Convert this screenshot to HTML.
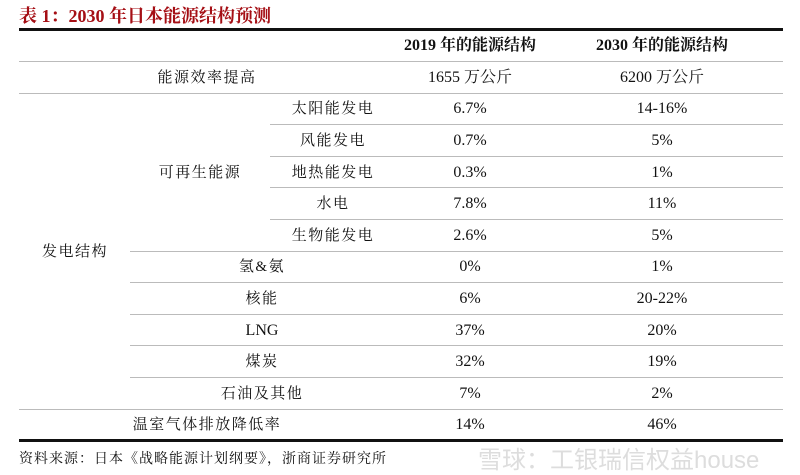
<!DOCTYPE html>
<html><head><meta charset="utf-8"><style>
body{margin:0;width:800px;height:473px;background:#fff;position:relative;overflow:hidden;font-family:"Liberation Serif","Noto Serif CJK SC",serif;color:#111}
.t{position:absolute;transform:translate(-50%,-50%);white-space:nowrap;font-size:16px;line-height:16px}
.c{letter-spacing:1.5px;font-size:15px}
.l{position:absolute;height:1px;background:#bbb}
.k{position:absolute;height:3px;background:#111;left:19px;width:764px}
</style></head><body>
<div style="position:absolute;left:19px;top:2px;font-size:18px;font-weight:bold;color:#a50f15;font-family:'Liberation Serif','Noto Serif CJK SC',serif">表 1：2030 年日本能源结构预测</div>
<div class="k" style="top:28px"></div>
<div class="k" style="top:439px"></div>
<div id="tbl"></div>
<div style="position:absolute;left:19px;top:448px;font-size:14px;letter-spacing:1px">资料来源：日本《战略能源计划纲要》，浙商证券研究所</div>
<div style="position:absolute;left:478px;top:440px;font-size:24px;color:#ddd;font-family:'Liberation Sans','Noto Sans CJK SC',sans-serif">雪球：工银瑞信权益house</div>
<script>
const rows=[
["能源效率提高","1655 万公斤","6200 万公斤"],
["太阳能发电","6.7%","14-16%"],
["风能发电","0.7%","5%"],
["地热能发电","0.3%","1%"],
["水电","7.8%","11%"],
["生物能发电","2.6%","5%"],
["氢&氨","0%","1%"],
["核能","6%","20-22%"],
["LNG","37%","20%"],
["煤炭","32%","19%"],
["石油及其他","7%","2%"],
["温室气体排放降低率","14%","46%"]];
const tbl=document.getElementById('tbl');
function txt(s,x,y,bold,cjk){const d=document.createElement('div');d.className='t'+(cjk?' c':'');d.style.left=x+'px';d.style.top=y+'px';if(bold)d.style.fontWeight='bold';d.textContent=s;


tbl.appendChild(d);}
function line(x,y,w){const d=document.createElement('div');d.className='l';d.style.left=x+'px';d.style.top=y+'px';d.style.width=w+'px';


tbl.appendChild(d);}
txt('2019 年的能源结构',470,46,true,false);txt('2030 年的能源结构',662,46,true,false);
line(19,61,764);
const rowH=31.6,y0=61;
rows.forEach((r,i)=>{
 const yc=y0+rowH*(i+0.5)+1;
 let x=207;
 if(i>=1&&i<=5)x=333;else if(i>=6&&i<=10)x=262;
 txt(r[0],x,yc,false,r[0]!=='LNG');txt(r[1],470,yc);txt(r[2],662,yc);
 const yb=Math.round(y0+rowH*(i+1));
 if(i<11){let lx=19;if(i>=1&&i<=4)lx=270;else if(i>=5&&i<=9)lx=130;line(lx,yb,783-lx);}
});
txt('可再生能源',200,y0+rowH*3.5+1,false,true);
txt('发电结构',75,y0+rowH*6+1,false,true);
</script>
</body></html>
